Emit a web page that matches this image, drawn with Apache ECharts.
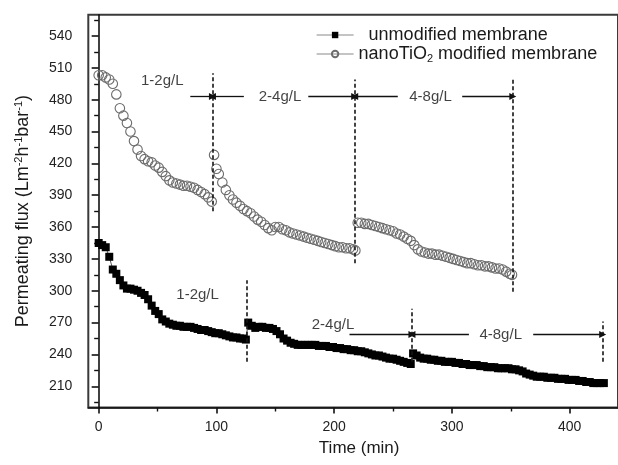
<!DOCTYPE html>
<html><head><meta charset="utf-8">
<script src="https://cdn.jsdelivr.net/npm/echarts@6/dist/echarts.min.js"></script>
<style>html,body{margin:0;padding:0;background:#fff}#c{width:618px;height:465px}</style>
</head><body><div id="c"></div>
<script>
// ---- data (time in min, flux in L m-2 h-1 bar-1) ----
const tiTime = [0,3,6,9,12,15,18,21,24,27,30,33,36,39,42,45,48,51,54,57,60,63,66,69,72,75,78,81,84,87,90,93,96,
  98,100,102,105,108,111,114,117,120,123,126,129,132,135,138,141,144,147,150,153,156,159,162,165,168,171,174,177,180,183,186,189,192,195,198,201,204,207,210,213,216,218,
  220,223,226,229,232,235,238,241,244,247,250,253,256,259,262,265,268,271,274,277,280,283,286,289,292,295,298,301,304,307,310,313,316,319,322,325,328,331,334,337,340,343,346,349,351];
const tiFlux = [503,503,501,499,495,485,472,465,458,450,441,433,427,424,422,421,418,416,412,408,404,402,401,400,399,399,398,397,395,393,391,388,384,
  428,415,410,402,395,390,386,383,380,377,375,373,370,367,365,362,359,357,360,360,358,357,355,354,353,352,351,350,349,348,347,346,345,344,343,342,341,341,340,340,339,338,
  364,364,363,363,362,361,360,359,358,357,356,354,353,351,349,347,343,339,337,336,335,335,334,334,333,332,331,330,329,328,327,326,326,325,324,324,323,323,322,321,321,320,318,316,315];
const unTime = [0,3,6,9,12,15,18,21,24,27,30,33,36,39,42,45,48,51,54,57,60,63,66,69,72,75,78,81,84,87,90,93,96,99,102,105,108,111,114,117,120,123,125,
  127,130,133,136,139,142,145,148,151,154,157,160,163,166,169,172,175,178,181,184,187,190,193,196,199,202,205,208,211,214,217,220,223,226,229,232,235,238,241,244,247,250,253,256,259,262,265,
  267,270,273,276,279,282,285,288,291,294,297,300,303,306,309,312,315,318,321,324,327,330,333,336,339,342,345,348,351,354,357,360,363,366,369,372,375,378,381,384,387,390,393,396,399,402,405,408,411,414,417,420,423,426,429];
const unFlux = [345,343,341,332,320,316,310,305,302,302,301,300,298,296,292,286,281,278,273,271,269,268,267,267,266,266,266,265,264,263,263,262,261,260,260,259,258,257,256,256,255,255,254,
  270,267,265,266,266,265,265,264,262,259,255,253,251,250,249,249,249,249,249,249,248,248,248,247,247,246,246,245,245,244,244,243,243,242,241,240,239,239,238,237,236,236,235,234,233,232,231,
  241,239,237,236,236,235,235,234,234,233,233,233,232,232,231,231,230,230,230,229,229,228,228,228,227,227,227,227,226,226,225,224,222,221,220,219,219,219,218,218,218,217,217,217,216,216,216,215,215,214,214,213,213,213,213];
const xMajor = [0,100,200,300,400];
const xMinor = [50,150,250,350];
const yMajor = [210,240,270,300,330,360,390,420,450,480,510,540];
const yMinor = [195,225,255,285,315,345,375,405,435,465,495,525,555];
const seriesNames = ['unmodified membrane','nanoTiO2 modified membrane'];
// concentration change markers: [time, fluxFrom, fluxTo]
const tiDividers = [[96.6,375,505],[217.4,326,499],[351.7,299,499]];
const unDividers = [[126,233,310],[266,233,283],[428,233,271]];
// arrows: [timeFrom, timeTo, flux]
const arrowSegs = [[77.8,96.6,483],[123.3,96.6,483],[178,217.4,483],[254,217.4,483],[308.7,351.7,483],
  [213,266,258.7],[314.4,266,258.7],[369,428,258.7]];
// labels: [time, flux, text]
const noteLabels = [[54,498,'1-2g/L'],[154,483,'2-4g/L'],[281.8,483,'4-8g/L'],
  [84,296,'1-2g/L'],[199,268,'2-4g/L'],[341.4,258.7,'4-8g/L']];

const FONT = '"Liberation Sans", Arial, sans-serif';
const pairs = (t, v) => t.map((x, i) => [x, v[i]]);
const divLine = d => [{coord:[d[0], d[1]]}, {coord:[d[0], d[2]]}];
const dashStyle = {color:'#161616', type:[4,2.5], width:1.6};

const chart = echarts.init(document.getElementById('c'), null, {renderer:'canvas'});
chart.setOption({
  animation:false,
  backgroundColor:'#fff',
  grid:{left:88.3, right:-4, top:14.8, bottom:57.5, show:true, borderColor:'#3a3a3a', borderWidth:2, backgroundColor:'transparent'},
  legend:{
    data:seriesNames, orient:'vertical', left:311, top:21, itemWidth:37, itemHeight:8, itemGap:1,
    lineStyle:{color:'#8a8a8a', width:1.2, opacity:1},
    textStyle:{fontFamily:FONT, fontSize:18, color:'#1a1a1a',
      rich:{n:{fontFamily:FONT, fontSize:18, color:'#1a1a1a'}, s:{fontFamily:FONT, fontSize:11, color:'#1a1a1a', padding:[10,0,0,0]}}},
    formatter: n => n === seriesNames[0] ? '{n|  unmodified membrane}' : '{n|nanoTiO}{s|2}{n| modified membrane}'
  },
  xAxis:[
    {type:'value', min:-8.8, max:441, position:'bottom',
      axisLine:{lineStyle:{color:'#111', width:1.6}},
      axisTick:{show:true, length:6, lineStyle:{color:'#111', width:1.6}, customValues:xMajor},
      axisLabel:{customValues:xMajor, fontFamily:FONT, fontSize:14, color:'#222', margin:13},
      splitLine:{show:false},
      name:'Time (min)', nameLocation:'middle', nameGap:30,
      nameTextStyle:{fontFamily:FONT, fontSize:17, color:'#1a1a1a', padding:[0,0,0,12]}},
    {type:'value', min:-8.8, max:441, position:'bottom',
      axisLine:{show:false}, axisLabel:{show:false}, splitLine:{show:false},
      axisTick:{show:true, length:4, lineStyle:{color:'#111', width:1.4}, customValues:xMinor}}
  ],
  yAxis:[
    {type:'value', min:190, max:560, position:'left',
      axisLine:{show:true, lineStyle:{color:'#111', width:1.6}},
      axisTick:{show:true, length:7, lineStyle:{color:'#111', width:1.6}, customValues:yMajor},
      axisLabel:{customValues:yMajor, fontFamily:FONT, fontSize:14, color:'#222', margin:16},
      splitLine:{show:false},
      name:'{a|Permeating flux (Lm}{s|-2}{a|h}{s|-1}{a|bar}{s|-1}{a|)}',
      nameLocation:'middle', nameGap:55, nameRotate:90,
      nameTextStyle:{rich:{a:{fontFamily:FONT, fontSize:18, color:'#1a1a1a'}, s:{fontFamily:FONT, fontSize:11, color:'#1a1a1a', padding:[0,0,9,0]}}}},
    {type:'value', min:190, max:560, position:'left',
      axisLine:{show:false}, axisLabel:{show:false}, splitLine:{show:false},
      axisTick:{show:true, length:4.5, lineStyle:{color:'#111', width:1.4}, customValues:yMinor}}
  ],
  series:[
    {name:seriesNames[0], type:'line', data:pairs(unTime, unFlux), symbol:'rect', symbolSize:8,
      showAllSymbol:true, itemStyle:{color:'#000'}, lineStyle:{color:'#555', width:1}, z:3,
      markLine:{silent:true, animation:false, symbol:['none','none'], label:{show:false}, lineStyle:dashStyle,
        data:unDividers.map(divLine)}},
    {name:seriesNames[1], type:'line', data:pairs(tiTime, tiFlux), symbol:'circle', symbolSize:9.5,
      showAllSymbol:true, itemStyle:{color:'rgba(255,255,255,0)', borderColor:'#6c6c6c', borderWidth:1.1},
      lineStyle:{opacity:0}, z:2,
      markLine:{silent:true, animation:false, symbol:['none','none'], label:{show:false}, lineStyle:dashStyle,
        data:tiDividers.map(divLine)}},
    {name:'notes', type:'scatter', data:noteLabels, symbolSize:0, silent:true, z:4,
      label:{show:true, position:'inside', formatter:p => p.data[2], fontFamily:FONT, fontSize:15, color:'#111'},
      markLine:{silent:true, animation:false, symbol:['none','triangle'], symbolSize:7, label:{show:false},
        lineStyle:{color:'#111', type:'solid', width:1.3},
        itemStyle:{color:'#111'},
        data:arrowSegs.map(a => [{coord:[a[0], a[2]]}, {coord:[a[1], a[2]], symbol:'triangle', symbolSize:7}])}}
  ]
});
</script></body></html>
